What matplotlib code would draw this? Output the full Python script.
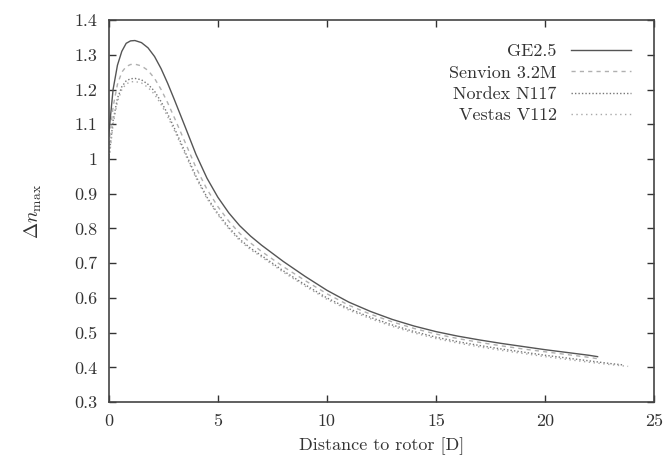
import matplotlib
matplotlib.use("Agg")
import matplotlib.pyplot as plt

plt.rcParams['font.family'] = ['cmr10', 'DejaVu Serif']
plt.rcParams['mathtext.fontset'] = 'cm'
plt.rcParams['axes.unicode_minus'] = False

base_x = [0, 0.2, 0.4, 0.6, 0.8, 1.0, 1.2, 1.5, 1.8, 2.1, 2.4, 2.7, 3.0, 3.5, 4.0, 4.5, 5, 5.5, 6, 6.5, 7, 8, 9, 10, 11, 12, 13, 14, 15, 16, 17, 18, 19, 20, 21, 22]

ge_x = base_x + [22.4]
ge_y = [1.07, 1.20, 1.27, 1.31, 1.333, 1.340, 1.341, 1.335, 1.32, 1.295, 1.26, 1.218, 1.172, 1.093, 1.013, 0.945, 0.89, 0.845, 0.808, 0.778, 0.752, 0.705, 0.662, 0.622, 0.588, 0.561, 0.538, 0.519, 0.503, 0.49, 0.479, 0.469, 0.46, 0.451, 0.443, 0.435, 0.431]

sen_x = base_x + [22.4]
sen_y = [1.04, 1.15, 1.215, 1.25, 1.266, 1.272, 1.273, 1.268, 1.255, 1.232, 1.2, 1.162, 1.12, 1.048, 0.975, 0.913, 0.863, 0.821, 0.786, 0.758, 0.734, 0.69, 0.65, 0.612, 0.579, 0.553, 0.531, 0.512, 0.496, 0.483, 0.472, 0.462, 0.453, 0.445, 0.437, 0.429, 0.425]

nor_x = base_x + [23, 23.6]
nor_y = [1.00, 1.11, 1.175, 1.208, 1.225, 1.231, 1.232, 1.228, 1.215, 1.195, 1.165, 1.13, 1.09, 1.02, 0.95, 0.89, 0.843, 0.803, 0.769, 0.743, 0.722, 0.678, 0.638, 0.6, 0.569, 0.544, 0.522, 0.503, 0.487, 0.474, 0.463, 0.453, 0.444, 0.435, 0.427, 0.419, 0.411, 0.407]

ves_x = base_x + [23, 23.8]
ves_y = [0.99, 1.10, 1.165, 1.2, 1.216, 1.222, 1.223, 1.219, 1.206, 1.186, 1.157, 1.122, 1.083, 1.014, 0.945, 0.886, 0.839, 0.799, 0.765, 0.739, 0.718, 0.674, 0.634, 0.596, 0.565, 0.54, 0.518, 0.499, 0.483, 0.47, 0.459, 0.449, 0.44, 0.431, 0.423, 0.415, 0.408, 0.403]

x_ticks = [0, 5, 10, 15, 20, 25]
x_tick_labels = ['0', '5', '10', '15', '20', '25']
y_ticks = [0.3, 0.4, 0.5, 0.6, 0.7, 0.8, 0.9, 1.0, 1.1, 1.2, 1.3, 1.4]
y_tick_labels = ['0.3', '0.4', '0.5', '0.6', '0.7', '0.8', '0.9', '1', '1.1', '1.2', '1.3', '1.4']

fig = plt.figure(figsize=(6.67, 4.66), dpi=100)
ax = fig.add_axes([0.163, 0.137, 0.818, 0.820])

ax.plot(ge_x, ge_y, color='#555555', lw=1.0, ls='-', label='GE2.5')
ax.plot(sen_x, sen_y, color='#b0b0b0', lw=1.0, ls=(0, (3, 3)), label='Senvion 3.2M')
ax.plot(nor_x, nor_y, color='#777777', lw=1.0, ls=(0, (1, 1.5)), label='Nordex N117')
ax.plot(ves_x, ves_y, color='#a8a8a8', lw=1.0, ls=(0, (1, 2.5)), label='Vestas V112')

ax.set_xlim(0, 25)
ax.set_ylim(0.3, 1.4)
ax.set_xticks(x_ticks)
ax.set_xticklabels(x_tick_labels)
ax.set_yticks(y_ticks)
ax.set_yticklabels(y_tick_labels)
ax.tick_params(direction='in', top=True, right=True, length=5, width=1, labelsize=13, pad=8, colors='#333333')
for s in ax.spines.values():
    s.set_color('#444444')
    s.set_linewidth(1.2)

ax.set_xlabel('Distance to rotor [D]', fontsize=13, color='#333333', labelpad=6)
ax.set_ylabel(r'$\Delta n_{\max}$', fontsize=14, color='#333333', labelpad=22)

leg = ax.legend(loc='upper right', frameon=False, markerfirst=False, fontsize=13,
                handlelength=3.3, labelspacing=0.32, borderaxespad=0.9, handletextpad=0.8)
for t in leg.get_texts():
    t.set_color('#333333')

fig.savefig('out.png', dpi=100)
